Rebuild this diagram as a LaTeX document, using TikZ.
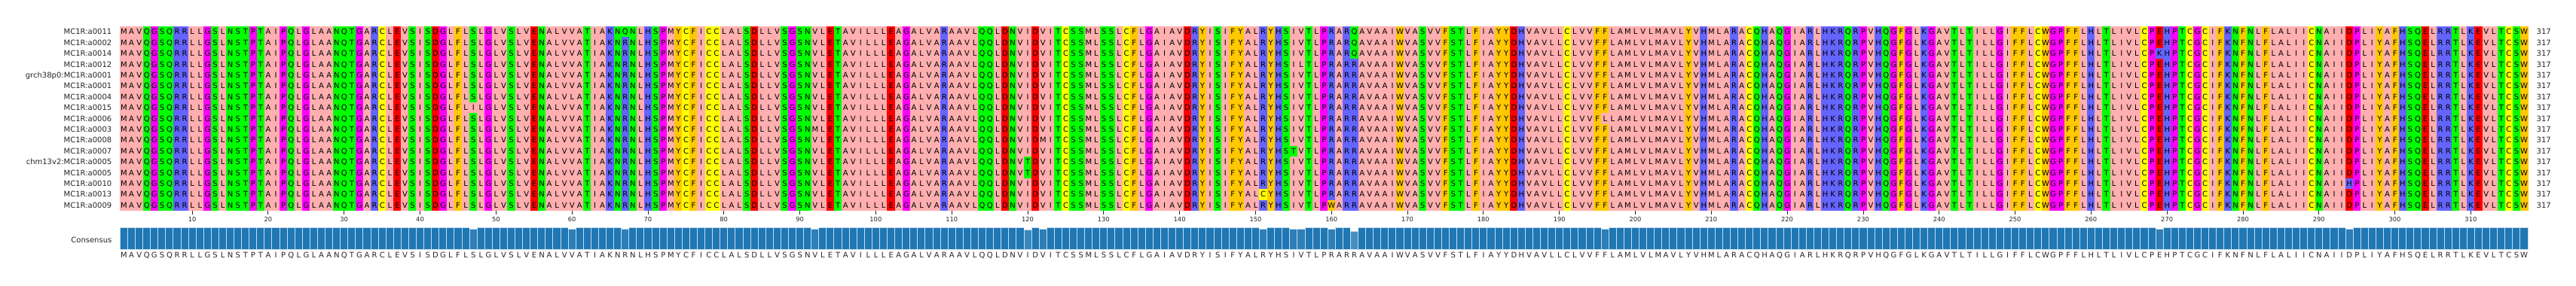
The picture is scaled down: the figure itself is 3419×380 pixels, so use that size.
\documentclass[tikz,border=0pt]{standalone}
\usepackage{fontspec}
\setmainfont{DejaVu Sans}
% Zappo colour scheme
\definecolor{aaA}{HTML}{FFAFAF}\definecolor{aaI}{HTML}{FFAFAF}\definecolor{aaL}{HTML}{FFAFAF}
\definecolor{aaM}{HTML}{FFAFAF}\definecolor{aaV}{HTML}{FFAFAF}
\definecolor{aaF}{HTML}{FFC800}\definecolor{aaW}{HTML}{FFC800}\definecolor{aaY}{HTML}{FFC800}
\definecolor{aaH}{HTML}{6464FF}\definecolor{aaK}{HTML}{6464FF}\definecolor{aaR}{HTML}{6464FF}
\definecolor{aaD}{HTML}{FF0000}\definecolor{aaE}{HTML}{FF0000}
\definecolor{aaN}{HTML}{00FF00}\definecolor{aaQ}{HTML}{00FF00}\definecolor{aaS}{HTML}{00FF00}\definecolor{aaT}{HTML}{00FF00}
\definecolor{aaG}{HTML}{FF00FF}\definecolor{aaP}{HTML}{FF00FF}
\definecolor{aaC}{HTML}{FFFF00}
\definecolor{barblue}{HTML}{1F77B4}
\definecolor{baredge}{HTML}{C8DCEB}
\definecolor{labgray}{HTML}{262626}
\newdimen\cw \cw=10.081pt
\def\xo{159.3}\def\cwn{10.081}\def\yo{35}\def\rh{14.412}
\def\cons{MAVQGSQRRLLGSLNSTPTAIPQLGLAANQTGARCLEVSISDGLFLSLGLVSLVENALVVATIAKNRNLHSPMYCFICCLALSDLLVSGSNVLETAVILLLEAGALVARAAVLQQLDNVIDVITCSSMLSSLCFLGAIAVDRYISIFYALRYHSIVTLPRARRAVAAIWVASVVFSTLFIAYYDHVAVLLCLVVFFLAMLVLMAVLYVHMLARACQHAQGIARLHKRQRPVHQGFGLKGAVTLTILLGIFFLCWGPFFLHLTLIVLCPEHPTCGCIFKNFNLFLALIICNAIIDPLIYAFHSQELRRTLKEVLTCSW}
\newcount\colidx
\newcount\txtidx
\def\currow{0}
% letters of one row; a variant residue replaces the consensus one
\def\seqloop#1{\ifx#1\relax\else\advance\txtidx by 1\relax
  \ifcsname v\currow-\the\txtidx\endcsname
    \makebox[\cw][c]{\csname v\currow-\the\txtidx\endcsname}%
  \else\makebox[\cw][c]{#1}\fi
  \expandafter\seqloop\fi}
\newcommand\seqrow{\txtidx=0 \expandafter\seqloop\cons\relax}
\def\bgloop#1{\ifx#1\relax\else\global\advance\colidx by 1\relax
  \fill[aa#1] ({\xo+(\the\colidx-1)*\cwn},\yo) rectangle ++({\cwn+0.5},{17*\rh});\expandafter\bgloop\fi}
\newcommand\vcell[3]{%
  \expandafter\gdef\csname v#1-#2\endcsname{#3}%
  \fill[aa#3] ({\xo+(#2-1)*\cwn},{\yo+(#1-1)*\rh}) rectangle ++(\cwn,\rh);}
\newcommand\cbar[2]{%
  \fill[white] ({\xo+(#1-1)*\cwn},300.8) rectangle ++(\cwn,31);
  \filldraw[barstyle,fill opacity=#2] ({\xo+(#1-1)*\cwn},{331-28.7*#2}) rectangle ({\xo+#1*\cwn},331);}
\tikzset{
  letter/.style={inner sep=0pt,font=\fontsize{10}{12}\selectfont,text=black},
  lab/.style={inner sep=0pt,font=\fontsize{10}{12}\selectfont,text=labgray},
  ticklab/.style={inner sep=0pt,font=\fontsize{8.3}{10}\selectfont,text=labgray},
  barstyle/.style={fill=barblue,draw=baredge,line width=0.9pt}
}
\begin{document}
\begin{tikzpicture}[x=1pt,y=-1pt]
\useasboundingbox (0,0) rectangle (3419,380);
\fill[white] (0,0) rectangle (3419,380);
% column backgrounds
\global\colidx=0
\expandafter\bgloop\cons\relax
% variant cells
\vcell{1}{67}{Q}\vcell{1}{163}{Q}
\vcell{2}{163}{Q}
\vcell{3}{163}{Q}\vcell{3}{269}{K}
\vcell{4}{156}{L}
\vcell{7}{60}{L}
\vcell{8}{47}{I}
\vcell{9}{196}{L}
\vcell{10}{92}{M}
\vcell{11}{122}{M}
\vcell{12}{155}{T}
\vcell{13}{120}{T}
\vcell{14}{120}{T}
\vcell{15}{294}{H}
\vcell{16}{151}{C}
\vcell{17}{160}{W}
% sequence rows
\foreach \n [count=\r] in {MC1R:a0011,MC1R:a0002,MC1R:a0014,MC1R:a0012,grch38p0:MC1R:a0001,MC1R:a0001,MC1R:a0004,MC1R:a0015,MC1R:a0006,MC1R:a0003,MC1R:a0008,MC1R:a0007,chm13v2:MC1R:a0005,MC1R:a0005,MC1R:a0010,MC1R:a0013,MC1R:a0009}{
  \node[lab,anchor=base east] (lab\r) at (148.5,{\yo+(\r-0.5)*\rh+3.6}) {\n};
  \node[letter,anchor=base west] (seq\r) at (\xo,{\yo+(\r-0.5)*\rh+3.6}) {\edef\currow{\r}\seqrow};
  \node[lab,anchor=base west] (len\r) at (3366.5,{\yo+(\r-0.5)*\rh+3.6}) {317};
}
% ticks
\foreach \t in {10,20,...,310}{
  \draw[labgray,line width=0.8pt] ({\xo+(\t-0.5)*\cwn},280) -- ({\xo+(\t-0.5)*\cwn},284.5);
  \node[ticklab,anchor=base] (tk\t) at ({\xo+(\t-0.5)*\cwn},294.7) {\t};
}
% consensus bars
\node[lab,anchor=base east] (conslab) at (148.5,322.9) {Consensus};
\foreach \i in {1,...,317}{
  \filldraw[barstyle] ({\xo+(\i-1)*\cwn},302.3) rectangle ++(\cwn,28.7);
}
\cbar{47}{0.941}\cbar{60}{0.941}\cbar{67}{0.941}\cbar{92}{0.941}\cbar{120}{0.882}
\cbar{122}{0.941}\cbar{151}{0.941}\cbar{155}{0.941}\cbar{156}{0.941}\cbar{160}{0.941}
\cbar{163}{0.824}\cbar{196}{0.941}\cbar{269}{0.941}\cbar{294}{0.941}
\node[lab,anchor=base west] (consseq) at (\xo,342.9) {\edef\currow{0}\seqrow};
\end{tikzpicture}
\end{document}
